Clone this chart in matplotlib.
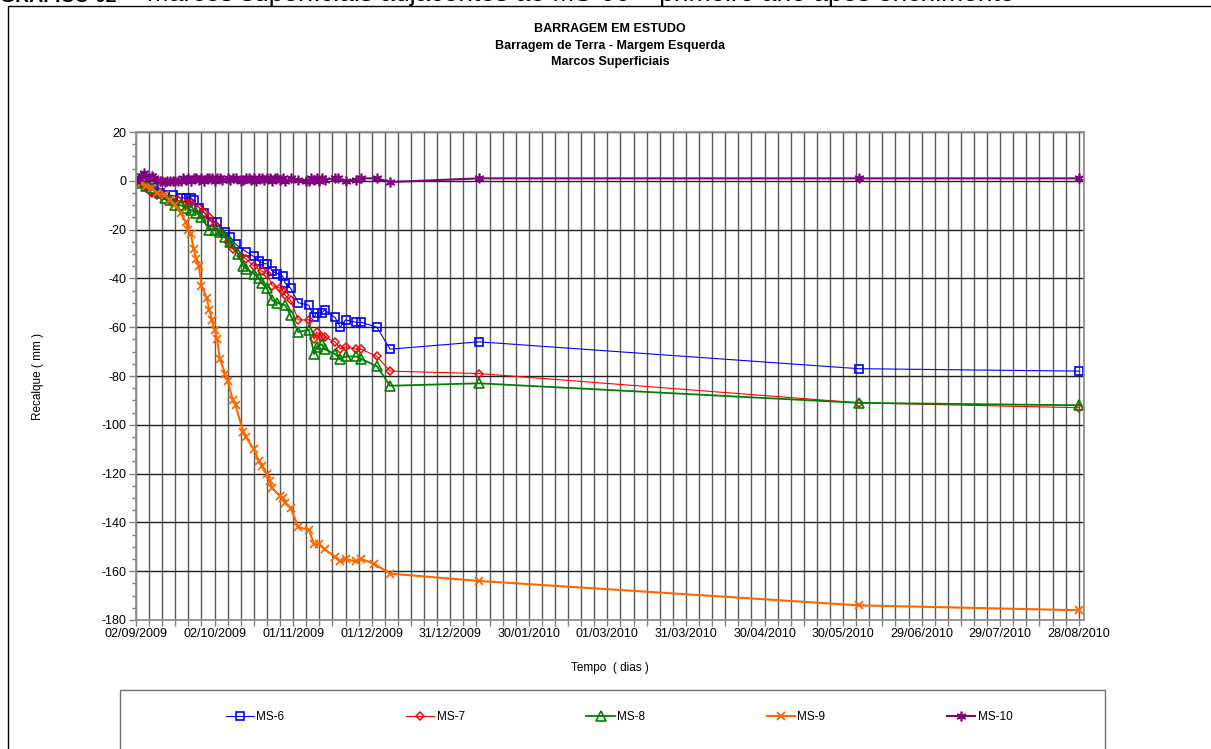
import matplotlib
matplotlib.use("Agg")
import matplotlib.pyplot as plt
import matplotlib.dates as mdates
from matplotlib.ticker import MultipleLocator, FixedLocator
from matplotlib.patches import Rectangle
import pandas as pd

plt.rcParams['font.family'] = ['Liberation Sans', 'DejaVu Sans']
plt.rcParams['axes.unicode_minus'] = False

# Data inicial das leituras (enchimento)
INICIO = pd.Timestamp("2009-09-02")

# Dias desde o inicio e recalques (mm) de cada marco
dias_ms6 = [0, 2, 4, 7, 9, 11, 14, 17, 19, 21, 22, 24, 26, 29, 31, 34, 36, 38, 42, 45,
            47, 49, 50, 52, 54, 56, 57, 59, 62, 66, 68, 69, 71, 72, 76, 78, 80, 84, 86, 92,
            97, 131, 276, 360]
rec_ms6 = [0, 0, -2, -4, -5, -6, -6, -7, -7, -7, -8, -11, -13, -17, -17, -21, -23, -26, -29, -31,
           -33, -34, -34, -37, -38, -39, -42, -44, -50, -51, -56, -54, -54, -53, -56, -60, -57, -58, -58, -60,
           -69, -66, -77, -78]

dias_ms7 = [0, 2, 4, 6, 8, 10, 13, 16, 19, 21, 24, 26, 28, 30, 33, 35, 37, 40, 42, 45,
            48, 50, 52, 55, 56, 57, 59, 62, 66, 68, 69, 71, 72, 76, 78, 80, 84, 86, 92, 97,
            131, 276, 360]
rec_ms7 = [0, -1, -3, -5, -6, -6, -8, -8, -9, -9, -11, -13, -15, -18, -22, -25, -28, -31, -32, -35,
           -37, -38, -43, -44, -45, -47, -49, -57, -57, -65, -62, -64, -64, -66, -69, -68, -69, -69, -72, -78,
           -79, -91, -93]

dias_ms8 = [0, 2, 4, 6, 9, 11, 13, 15, 17, 19, 21, 23, 25, 28, 30, 32, 34, 36, 39, 41,
            42, 45, 47, 48, 50, 52, 54, 57, 59, 62, 66, 68, 69, 71, 72, 76, 78, 80, 84, 86,
            92, 97, 131, 276, 360]
rec_ms8 = [0, -1, -2, -3, -5, -7, -8, -10, -10, -11, -12, -13, -15, -20, -20, -21, -23, -25, -30, -35,
           -36, -38, -40, -42, -44, -49, -50, -51, -55, -62, -61, -71, -68, -67, -69, -71, -73, -72, -72, -73,
           -76, -84, -83, -91, -92]

dias_ms9 = [0, 2, 4, 6, 8, 11, 13, 15, 17, 19, 20, 21, 22, 23, 24, 25, 27, 28, 29, 30,
            31, 32, 34, 35, 37, 38, 41, 42, 45, 47, 48, 50, 51, 52, 55, 56, 57, 59, 62, 66,
            68, 70, 72, 76, 78, 80, 84, 86, 91, 97, 131, 276, 360]
rec_ms9 = [0, -1, -2, -3, -5, -6, -8, -10, -13, -17, -20, -22, -28, -32, -35, -43, -48, -53, -57, -61,
           -65, -73, -79, -82, -90, -92, -103, -105, -110, -115, -117, -120, -123, -126, -129, -130, -132, -134, -142, -143,
           -149, -149, -151, -154, -156, -155, -156, -155, -157, -161, -164, -174, -176]

dias_ms10 = [0, 1, 2, 3, 4, 5, 6, 7,
             8, 9, 10, 11, 12, 13, 14, 15, 16, 17,
             18, 19, 20, 21, 22, 23, 24, 25, 26, 27,
             28, 29, 30, 31, 32, 33,
             35, 36, 37, 38,
             40, 41, 42, 43, 44, 45, 46, 47, 48, 49, 50, 51, 52, 53, 54, 55, 56, 57,
             59, 62, 65,
             66, 67, 68, 69, 70, 71, 72,
             76, 77, 80, 84, 86, 92, 97,
             131, 276, 360]
rec_ms10 = [0, 1, 2, 3, 2, 1, 2, 1,
            0, 0, 0, -0.5, 0, 0, 0, 0, 0, 0,
            1, 0.5, 1, 0, 1, 1, 0.5, 1, 0, 1,
            1, 1, 0, 1, 1, 0.5,
            1, 0.5, 1, 1,
            0, 0.5, 1, 1, 0.5, 1, 0, 1, 1, 0.5, 1, 1, 0, 1, 1, 0.5, 1, 0,
            1, 0.5, 0,
            0, 1, 0.5, 1, 0, 1, 0.5,
            1, 1, 0, 0.5, 1, 1, -0.5,
            1, 1, 1]


def datas(dias):
    return INICIO + pd.to_timedelta(dias, unit="D")


fig = plt.figure(figsize=(12.11, 7.49), dpi=100)
W, H = 1211, 749

# moldura do grafico e titulo do documento (cortado no topo)
fig.add_artist(Rectangle((8 / W, -0.1), 1.2, 1 - 6 / H + 0.1, transform=fig.transFigure,
                         fill=False, edgecolor='black', linewidth=1.0, clip_on=False))
fig.text(0.0, 1 - 1.5 / H, "GRÁFICO 02", fontsize=14, fontweight='bold', va='baseline', ha='left')
fig.text(110 / W, 1 - 1.5 / H, " \u2013  Marcos superficiais adjacentes ao MS-06 \u2013 primeiro ano após enchimento",
         fontsize=19, va='baseline', ha='left')

# titulos
fig.text(610 / W, 1 - 29 / H, "BARRAGEM EM ESTUDO", fontsize=9, fontweight='bold', ha='center', va='center')
fig.text(610 / W, 1 - 45.5 / H, "Barragem de Terra - Margem Esquerda", fontsize=9, fontweight='bold',
         ha='center', va='center')
fig.text(610 / W, 1 - 62 / H, "Marcos Superficiais", fontsize=9, fontweight='bold', ha='center', va='center')

ax = fig.add_axes([136 / W, 1 - 620 / H, (1084 - 136) / W, (620 - 132) / H])

ax.plot(datas(dias_ms6), rec_ms6, color='#0000ff', linewidth=0.8, marker='s', markersize=5.5,
        markerfacecolor='none', markeredgewidth=1.2, label='MS-6')
ax.plot(datas(dias_ms7), rec_ms7, color='#ff0000', linewidth=0.8, marker='D', markersize=4.2,
        markerfacecolor='none', markeredgewidth=1.1, label='MS-7')
ax.plot(datas(dias_ms8), rec_ms8, color='#008000', linewidth=1.3, marker='^', markersize=6.5,
        markerfacecolor='none', markeredgewidth=1.2, label='MS-8')
ax.plot(datas(dias_ms9), rec_ms9, color='#ff6600', linewidth=1.5, marker='x', markersize=6,
        markeredgewidth=1.3, label='MS-9')
ax.plot(datas(dias_ms10), rec_ms10, color='#800080', linewidth=1.5, marker=(6, 2, 0), markersize=7,
        markeredgewidth=1.2, label='MS-10')

ax.set_xlim(INICIO, INICIO + pd.Timedelta(days=362))
ax.set_ylim(-180, 20)

# rotulos a cada 30 dias, grade vertical a cada 5 dias
ax.xaxis.set_major_locator(FixedLocator(mdates.date2num(list(datas(list(range(0, 361, 30)))))))
ax.xaxis.set_minor_locator(FixedLocator(mdates.date2num(list(datas(list(range(0, 361, 5)))))))
ax.xaxis.set_major_formatter(mdates.DateFormatter('%d/%m/%Y'))
ax.yaxis.set_major_locator(MultipleLocator(20))
ax.yaxis.set_minor_locator(MultipleLocator(5))

ax.grid(which='both', axis='x', color='#5a5a5a', linewidth=1.0)
ax.grid(which='major', axis='y', color='#202020', linewidth=1.0)
ax.set_axisbelow(True)

ax.tick_params(axis='both', which='both', direction='out', color='#808080', labelsize=9, width=1.0)
ax.tick_params(axis='x', which='both', length=4, pad=2)
ax.tick_params(axis='y', which='major', length=5, pad=2)
ax.tick_params(axis='y', which='minor', length=3)
for s in ax.spines.values():
    s.set_color('#909090')
    s.set_linewidth(1.3)

fig.text(610 / W, 1 - 668 / H, "Tempo  ( dias )", fontsize=8.5, ha='center', va='center')
fig.text(38 / W, 1 - 376 / H, "Recalque ( mm )", fontsize=8.5, ha='center', va='center', rotation=90)

# caixa da legenda
fig.add_artist(Rectangle((120 / W, -0.1), (1105 - 120) / W, 0.1 + 1 - 690 / H, transform=fig.transFigure,
                         fill=False, edgecolor='#707070', linewidth=1.0, clip_on=False))
leg = fig.legend(loc='center', bbox_to_anchor=(619 / W, 1 - 717 / H), ncol=5, frameon=False,
                 fontsize=8.5, handlelength=2.4, handletextpad=0.2, columnspacing=10.3,
                 borderaxespad=0)

fig.savefig("out.png", dpi=100)
